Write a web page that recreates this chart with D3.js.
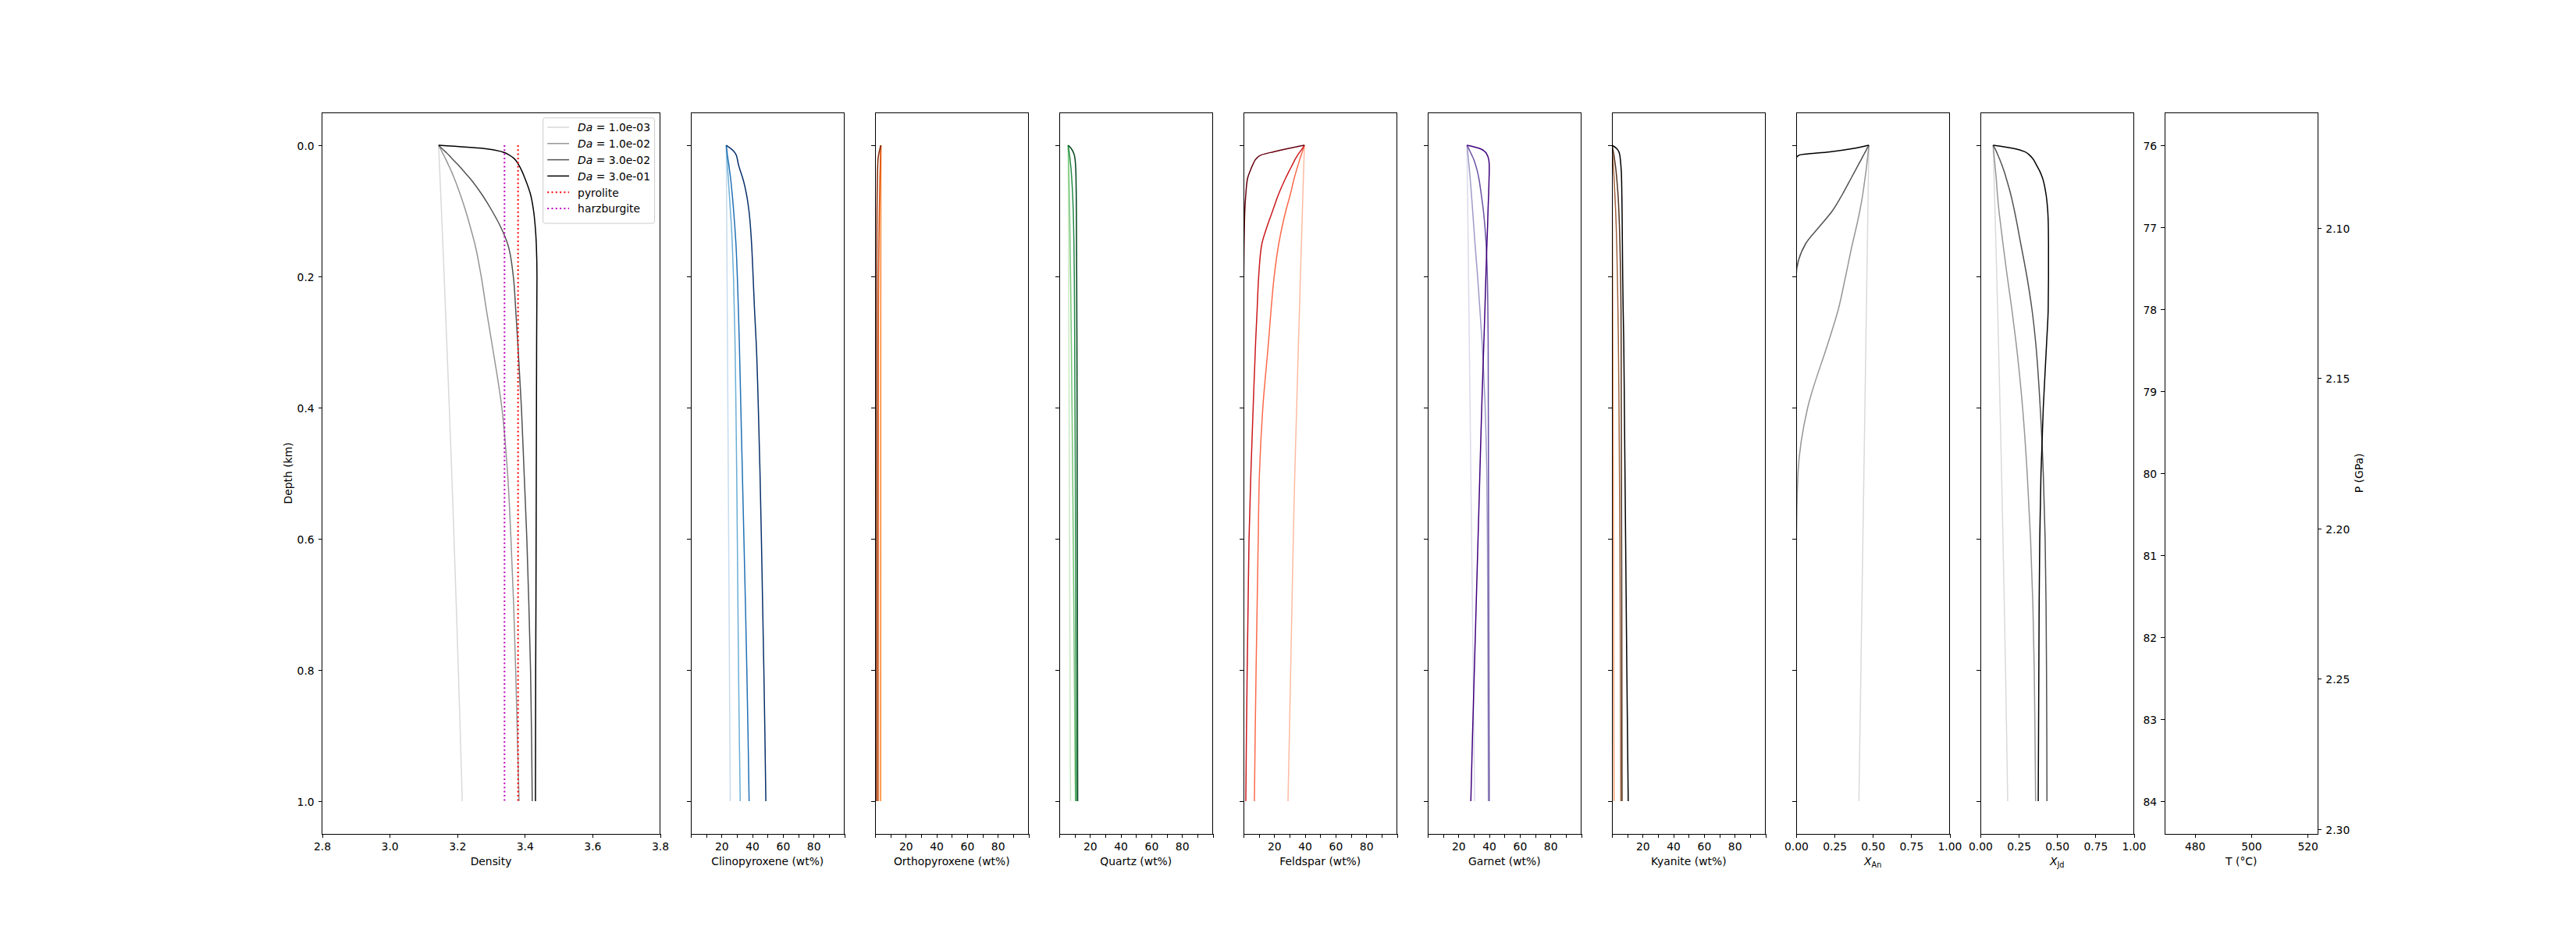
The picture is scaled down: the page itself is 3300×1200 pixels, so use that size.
<!DOCTYPE html>
<html><head><meta charset="utf-8">
<script src="https://cdn.jsdelivr.net/npm/d3@7"></script>
<style>
body{margin:0;background:#fff}
svg{display:block}
text{font-family:'DejaVu Sans',sans-serif}
</style>
</head><body>
<svg id="chart" width="3300" height="1200"></svg>
<script>
// ---------------- DATA ----------------
const depth = [0, 0.005, 0.01, 0.015, 0.02, 0.03, 0.04, 0.05, 0.075, 0.1, 0.125, 0.15, 0.2, 0.25, 0.3, 0.4, 0.5, 0.6, 0.7, 0.8, 0.9, 1.0];
const daLabels = ["1.0e-03", "1.0e-02", "3.0e-02", "3.0e-01"];

const densityDa1 = [3.145,3.1454,3.1458,3.1463,3.1467,3.1475,3.1484,3.1492,3.1513,3.1534,3.1554,3.1574,3.1614,3.1653,3.1691,3.1766,3.1838,3.1906,3.1971,3.2034,3.2093,3.215];
const densityDa2 = [3.145,3.150,3.155,3.160,3.165,3.174,3.183,3.191,3.209,3.225,3.239,3.252,3.271,3.286,3.302,3.332,3.349,3.359,3.367,3.373,3.378,3.383];
const densityDa3 = [3.145,3.155,3.165,3.175,3.184,3.203,3.220,3.237,3.273,3.303,3.329,3.349,3.366,3.373,3.379,3.390,3.398,3.406,3.412,3.417,3.420,3.422];
const densityDa4 = [3.145,3.280,3.333,3.354,3.368,3.382,3.392,3.400,3.417,3.426,3.431,3.434,3.436,3.4355,3.435,3.4345,3.434,3.4335,3.433,3.4322,3.4318,3.4315];
const pyroliteDensity = 3.38;
const harzburgiteDensity = 3.34;

const cpxDa1 = [23.1,23.11,23.13,23.14,23.15,23.18,23.2,23.23,23.3,23.36,23.43,23.49,23.62,23.75,23.88,24.14,24.4,24.66,24.92,25.18,25.44,25.7];
const cpxDa2 = [23.1,23.2,23.3,23.45,23.6,23.85,24.1,24.4,25.1,25.8,26.5,27.0,27.8,28.3,28.8,29.4,29.9,30.3,30.7,31.1,31.6,32.2];
const cpxDa3 = [23.1,23.35,23.6,23.85,24.15,24.8,25.35,25.9,27.0,27.9,28.7,29.4,30.3,31.0,31.6,32.6,33.6,34.6,35.6,36.5,37.3,38.0];
const cpxDa4 = [23.1,26.0,28.3,29.6,30.2,31.1,32.4,33.8,36.3,37.9,38.9,39.6,40.6,41.5,42.6,44.0,45.1,46.0,46.8,47.6,48.3,48.9];

const opxDa1 = [3.8,3.8,3.8,3.8,3.81,3.81,3.81,3.81,3.82,3.82,3.83,3.83,3.84,3.85,3.86,3.87,3.88,3.89,3.9,3.9,3.9,3.9];
const opxDa2 = [3.8,3.8,3.79,3.79,3.79,3.78,3.78,3.77,3.76,3.75,3.73,3.72,3.7,3.67,3.65,3.61,3.57,3.53,3.5,3.47,3.43,3.4];
const opxDa3 = [3.8,3.75,3.7,3.62,3.55,3.42,3.3,3.2,3.0,2.8,2.65,2.5,2.3,2.2,2.15,2.1,2.07,2.05,2.03,2.02,2.01,2.0];
const opxDa4 = [3.8,3.2,2.7,2.3,2.0,1.75,1.6,1.5,1.35,1.25,1.2,1.17,1.13,1.1,1.08,1.06,1.05,1.04,1.03,1.02,1.01,1.0];

const qtzDa1 = [5.8,5.81,5.81,5.82,5.83,5.84,5.86,5.87,5.91,5.95,5.99,6.02,6.1,6.17,6.25,6.4,6.55,6.7,6.85,7.0,7.15,7.3];
const qtzDa2 = [5.8,5.85,5.9,5.95,6.0,6.1,6.2,6.3,6.5,6.7,6.9,7.05,7.35,7.6,7.85,8.3,8.7,9.1,9.45,9.8,10.15,10.5];
const qtzDa3 = [5.8,6.1,6.4,6.7,6.95,7.4,7.8,8.1,8.7,9.1,9.35,9.55,9.8,9.95,10.05,10.25,10.45,10.6,10.75,10.88,11.0,11.1];
const qtzDa4 = [5.8,7.8,9.0,9.8,10.2,10.6,10.8,10.9,11.05,11.15,11.2,11.25,11.35,11.42,11.5,11.6,11.68,11.75,11.82,11.88,11.94,12.0];

const fspDa1 = [39.7,39.64,39.57,39.5,39.44,39.3,39.17,39.04,38.7,38.4,38.07,37.75,37.1,36.5,35.85,34.65,33.45,32.45,31.6,30.75,29.9,29.0];
const fspDa2 = [39.7,39.0,38.3,37.6,36.9,35.6,34.3,33.1,30.5,27.6,25.1,23.0,20.0,18.0,16.3,12.6,10.4,9.6,8.9,8.2,7.6,7.1];
const fspDa3 = [39.7,38.4,36.8,35.3,34.0,31.8,29.6,27.5,22.8,19.0,15.2,12.0,9.9,8.9,7.9,6.3,4.8,3.6,3.0,2.4,1.9,1.5];
const fspDa4 = [39.7,29.0,19.5,11.3,8.5,6.0,4.2,2.7,1.5,0.85,0.55,0.35,0.15,0.05,0,0,0,0,0,0,0,0];

const grtDa1 = [25.6,25.63,25.65,25.68,25.7,25.75,25.8,25.85,25.98,26.1,26.23,26.35,26.6,26.85,27.1,27.6,28.1,28.6,29.1,29.6,30.1,30.6];
const grtDa2 = [25.6,25.82,26.04,26.26,26.47,26.88,27.28,27.65,28.5,29.3,30.05,30.82,32.5,34.0,35.4,37.45,38.5,38.9,39.1,39.25,39.4,39.5];
const grtDa3 = [25.6,26.7,27.7,28.7,29.7,31.2,32.4,33.3,34.9,36.3,37.3,38.05,38.85,39.2,39.4,39.5,39.6,39.7,39.8,39.9,40.0,40.1];
const grtDa4 = [25.6,34.0,37.4,38.8,39.6,40.1,40.1,40.0,39.7,39.3,39.0,38.6,37.9,37.3,36.6,35.2,34.0,32.8,31.6,30.4,29.2,28.1];

const kyDa1 = [0,0.02,0.03,0.04,0.05,0.07,0.09,0.11,0.17,0.25,0.3,0.35,0.45,0.53,0.6,0.73,0.85,0.96,1.05,1.14,1.22,1.3];
const kyDa2 = [0,0.15,0.3,0.45,0.6,0.85,1.1,1.35,1.9,2.4,2.8,3.1,3.55,3.9,4.2,4.6,4.9,5.15,5.35,5.5,5.65,5.8];
const kyDa3 = [0,0.5,0.9,1.3,1.6,2.2,2.7,3.1,3.95,4.5,4.9,5.2,5.65,5.9,6.0,6.1,6.2,6.3,6.4,6.45,6.5,6.6];
const kyDa4 = [0,3.1,4.5,5.1,5.4,5.8,6.1,6.25,6.45,6.6,6.7,6.8,7.0,7.3,7.7,8.1,8.5,8.9,9.3,9.7,10.15,10.6];

const xAnDa1 = [0.474,0.4737,0.4734,0.473,0.4727,0.472,0.4714,0.4708,0.4691,0.4675,0.4659,0.4643,0.461,0.4578,0.4545,0.448,0.4415,0.435,0.4285,0.422,0.4155,0.409];
const xAnDa2 = [0.474,0.472,0.470,0.467,0.465,0.46,0.455,0.449,0.434,0.415,0.392,0.367,0.322,0.275,0.21,0.075,0.012,0.002,0,0,0,0];
const xAnDa3 = [0.474,0.462,0.451,0.439,0.428,0.405,0.382,0.359,0.301,0.236,0.148,0.062,0,0,0,0,0,0,0,0,0,0];
const xAnDa4 = [0.474,0.37,0.22,0.02,0,0,0,0,0,0,0,0,0,0,0,0,0,0,0,0,0,0];

const xJdDa1 = [0.083,0.0836,0.0842,0.0849,0.0855,0.0867,0.088,0.0892,0.0922,0.0952,0.0981,0.1011,0.1068,0.1124,0.1178,0.1282,0.138,0.1472,0.1558,0.1638,0.1712,0.178];
const xJdDa2 = [0.083,0.085,0.087,0.089,0.091,0.095,0.099,0.103,0.111,0.121,0.134,0.147,0.175,0.205,0.232,0.275,0.305,0.327,0.342,0.351,0.356,0.36];
const xJdDa3 = [0.083,0.095,0.105,0.114,0.123,0.14,0.155,0.168,0.198,0.222,0.243,0.263,0.303,0.336,0.36,0.39,0.41,0.422,0.428,0.431,0.433,0.434];
const xJdDa4 = [0.083,0.22,0.29,0.32,0.34,0.365,0.388,0.405,0.428,0.439,0.443,0.444,0.444,0.442,0.432,0.41,0.395,0.387,0.383,0.381,0.379,0.377];

// tick values
const depthTicks = [0, 0.2, 0.4, 0.6, 0.8, 1.0];
const densityTicks = [2.8, 3.0, 3.2, 3.4, 3.6, 3.8];
const wtTicks = [0, 10, 20, 30, 40, 50, 60, 70, 80, 90, 100];
const wtLabelled = [20, 40, 60, 80];
const fracTicks = [0, 0.25, 0.5, 0.75, 1.0];
const tempTicks = [480, 500, 520];
const kmTicks = [76, 77, 78, 79, 80, 81, 82, 83, 84];
const pressureTicks = [2.10, 2.15, 2.20, 2.25, 2.30];

// ---------------- STYLE ----------------
const greys   = ["#d9d9d9", "#969696", "#525252", "#000000"];
const blues   = ["#c6dbef", "#6baed6", "#2171b5", "#08306b"];
const oranges = ["#fdd0a2", "#fd8d3c", "#d94801", "#7f2704"];
const greens  = ["#c7e9c0", "#74c476", "#238b45", "#00441b"];
const reds    = ["#fcbba1", "#fb6a4a", "#cb181d", "#67000d"];
const purples = ["#dadaeb", "#9e9ac8", "#6a51a3", "#3f007d"];
const coppers = ["#ef955f", "#a0643f", "#50321f", "#000000"];

const wtFmt = d => wtLabelled.includes(d) ? String(d) : "";
const panels = [
  {label: "Density", domain: [2.8, 3.8], ticks: densityTicks, fmt: d3.format(".1f"), series: [densityDa1, densityDa2, densityDa3, densityDa4], colors: greys},
  {label: "Clinopyroxene (wt%)", domain: [0, 100], ticks: wtTicks, fmt: wtFmt, series: [cpxDa1, cpxDa2, cpxDa3, cpxDa4], colors: blues},
  {label: "Orthopyroxene (wt%)", domain: [0, 100], ticks: wtTicks, fmt: wtFmt, series: [opxDa1, opxDa2, opxDa3, opxDa4], colors: oranges},
  {label: "Quartz (wt%)", domain: [0, 100], ticks: wtTicks, fmt: wtFmt, series: [qtzDa1, qtzDa2, qtzDa3, qtzDa4], colors: greens},
  {label: "Feldspar (wt%)", domain: [0, 100], ticks: wtTicks, fmt: wtFmt, series: [fspDa1, fspDa2, fspDa3, fspDa4], colors: reds},
  {label: "Garnet (wt%)", domain: [0, 100], ticks: wtTicks, fmt: wtFmt, series: [grtDa1, grtDa2, grtDa3, grtDa4], colors: purples},
  {label: "Kyanite (wt%)", domain: [0, 100], ticks: wtTicks, fmt: wtFmt, series: [kyDa1, kyDa2, kyDa3, kyDa4], colors: coppers},
  {label: ["X", "An"], domain: [0, 1], ticks: fracTicks, fmt: d3.format(".2f"), series: [xAnDa1, xAnDa2, xAnDa3, xAnDa4], colors: greys},
  {label: ["X", "Jd"], domain: [0, 1], ticks: fracTicks, fmt: d3.format(".2f"), series: [xJdDa1, xJdDa2, xJdDa3, xJdDa4], colors: greys},
  {label: "T (°C)", domain: [469.3, 523.7], ticks: tempTicks, fmt: d3.format("d"), series: [], colors: []}
];

// ---------------- DRAW ----------------
const svg = d3.select("#chart");
svg.append("rect").attr("width", 3300).attr("height", 1200).attr("fill", "#fff");
const TOP = 144, BOTTOM = 1068, FS = 13.89, TL = 4.86;
const y = d3.scaleLinear().domain([-0.05, 1.05]).range([TOP, BOTTOM]);

function styleAxis(g) {
  g.select(".domain").remove();
  g.attr("font-size", FS).attr("font-family", "DejaVu Sans");
  g.selectAll(".tick line").attr("stroke", "#000").attr("stroke-width", 1).attr("shape-rendering", "crispEdges");
  g.selectAll(".tick text").attr("fill", "#000");
}

panels.forEach((p, i) => {
  const x0 = i === 0 ? 412.5 : 885 + 236 * (i - 1);
  const w = i === 0 ? 433 : 196.5;
  const x = d3.scaleLinear().domain(p.domain).range([x0, x0 + w]);
  const g = svg.append("g");

  const clipId = "clip" + i;
  svg.append("clipPath").attr("id", clipId).append("rect")
    .attr("x", x0).attr("y", TOP).attr("width", w).attr("height", BOTTOM - TOP);
  const plot = g.append("g").attr("clip-path", `url(#${clipId})`);

  const line = d3.line().x(d => x(d[1])).y(d => y(d[0])).curve(d3.curveMonotoneY);
  p.series.forEach((vals, k) => {
    plot.append("path").datum(depth.map((z, j) => [z, vals[j]]))
      .attr("d", line).attr("fill", "none")
      .attr("stroke", p.colors[k]).attr("stroke-width", 1.5)
      .attr("stroke-linejoin", "round");
  });

  if (i === 0) {
    const refs = [[pyroliteDensity, "#ff0000"], [harzburgiteDensity, "#bf00bf"]];
    refs.forEach(([v, c]) => {
      plot.append("path").datum([[0, v], [1, v]]).attr("d", line)
        .attr("fill", "none").attr("stroke", c).attr("stroke-width", 2)
        .attr("stroke-dasharray", "2,3.3");
    });
  }

  // bottom axis
  const axB = g.append("g").attr("transform", `translate(0,${BOTTOM})`)
    .call(d3.axisBottom(x).tickValues(p.ticks).tickFormat(p.fmt).tickSize(TL).tickSizeOuter(0).tickPadding(6));
  styleAxis(axB);

  // left axis
  if (i < 9) {
    const axL = g.append("g").attr("transform", `translate(${x0},0)`)
      .call(d3.axisLeft(y).tickValues(depthTicks).tickFormat(i === 0 ? d3.format(".1f") : () => "").tickSize(TL).tickSizeOuter(0).tickPadding(5));
    styleAxis(axL);
    axL.selectAll(".tick text").attr("dy", "0.38em");
  } else {
    const yKm = d3.scaleLinear().domain([75.6, 84.4]).range([TOP, BOTTOM]);
    const axL = g.append("g").attr("transform", `translate(${x0},0)`)
      .call(d3.axisLeft(yKm).tickValues(kmTicks).tickFormat(d3.format("d")).tickSize(TL).tickSizeOuter(0).tickPadding(5));
    styleAxis(axL);
    axL.selectAll(".tick text").attr("dy", "0.38em");
    const yP = d3.scaleLinear().domain([2.06156, 2.30156]).range([TOP, BOTTOM]);
    const axR = g.append("g").attr("transform", `translate(${x0 + w},0)`)
      .call(d3.axisRight(yP).tickValues(pressureTicks).tickFormat(d3.format(".2f")).tickSize(TL).tickSizeOuter(0).tickPadding(5));
    styleAxis(axR);
    axR.selectAll(".tick text").attr("dy", "0.38em");
    g.append("text").attr("transform", `translate(3027,606) rotate(-90)`)
      .attr("text-anchor", "middle").attr("font-size", FS).text("P (GPa)");
  }

  // frame
  g.append("rect").attr("x", x0).attr("y", TOP).attr("width", w).attr("height", BOTTOM - TOP)
    .attr("fill", "none").attr("stroke", "#000").attr("stroke-width", 1).attr("shape-rendering", "crispEdges");

  // x label
  const lab = g.append("text").attr("x", x0 + w / 2).attr("y", 1107.5)
    .attr("text-anchor", "middle").attr("font-size", FS);
  if (Array.isArray(p.label)) {
    lab.append("tspan").attr("font-style", "italic").text(p.label[0]);
    lab.append("tspan").attr("font-size", FS * 0.7).attr("dy", 3).text(p.label[1]);
  } else {
    lab.text(p.label);
  }

  if (i === 0) {
    svg.append("text").attr("transform", `translate(374,606) rotate(-90)`)
      .attr("text-anchor", "middle").attr("font-size", FS).text("Depth (km)");

    // legend
    const entries = daLabels.map((l, k) => ({da: l, color: greys[k], dash: null, w: 1.5}))
      .concat([{name: "pyrolite", color: "#ff0000", dash: "2,3.3", w: 2},
               {name: "harzburgite", color: "#bf00bf", dash: "2,3.3", w: 2}]);
    const lg = svg.append("g");
    const box = lg.append("rect");
    const right = x0 + w - 6.9, topL = TOP + 6.9;
    const rowH = 20.8;
    const texts = [];
    entries.forEach((e, k) => {
      texts.push(lg.append("text").attr("font-size", FS).attr("y", topL + 12.1 + k * rowH + 5.3));
      const t = texts[k];
      if (e.da) {
        t.append("tspan").attr("font-style", "italic").text("Da");
        t.append("tspan").text(" = " + e.da);
      } else t.text(e.name);
    });
    const maxLen = d3.max(texts, t => t.node().getComputedTextLength());
    const left = right - (5.6 + 27.8 + 11.1 + maxLen + 5.6);
    box.attr("x", left).attr("y", topL).attr("width", right - left).attr("height", 5.6 + entries.length * rowH - 6.9 + 5.6 + 6)
      .attr("rx", 2.8).attr("fill", "#fff").attr("fill-opacity", 0.8).attr("stroke", "#cccccc").attr("stroke-width", 1);
    entries.forEach((e, k) => {
      const cy = topL + 12.1 + k * rowH;
      lg.append("line").attr("x1", left + 5.6).attr("x2", left + 5.6 + 27.8).attr("y1", cy).attr("y2", cy)
        .attr("stroke", e.color).attr("stroke-width", e.w).attr("stroke-dasharray", e.dash);
      texts[k].attr("x", left + 5.6 + 27.8 + 11.1);
      texts[k].raise();
    });
  }
});
</script>
</body></html>
